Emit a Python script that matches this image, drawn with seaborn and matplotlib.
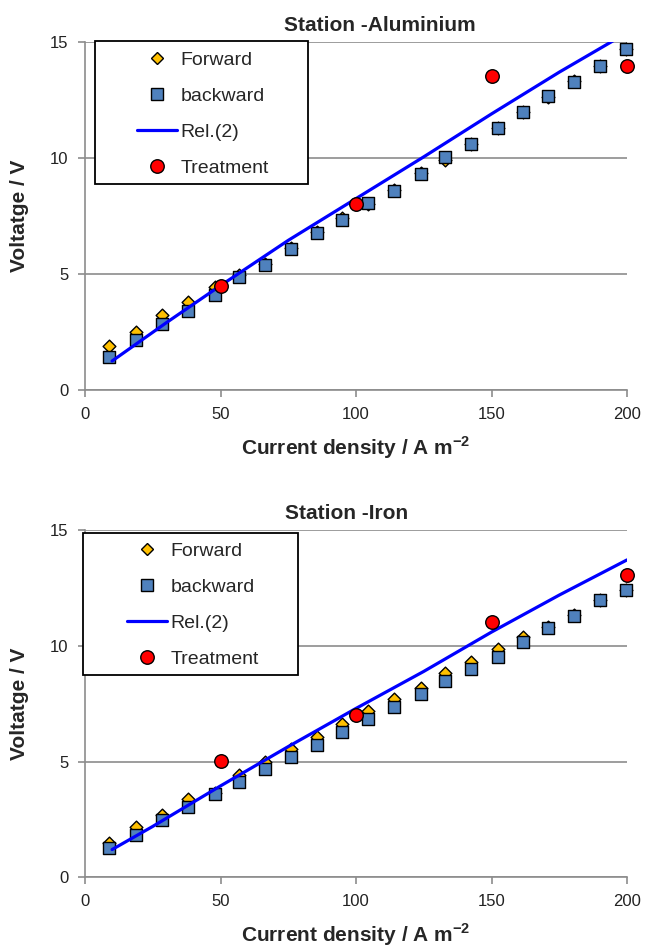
import numpy as np
import pandas as pd
import matplotlib
matplotlib.use("Agg")
import matplotlib.pyplot as plt
from matplotlib.lines import Line2D
from matplotlib.patches import Rectangle
import seaborn as sns

sns.set_style("white")
plt.rcParams['font.family'] = ['Liberation Sans', 'DejaVu Sans']
plt.rcParams['mathtext.fontset'] = 'custom'
plt.rcParams['mathtext.rm'] = 'Liberation Sans'
plt.rcParams['mathtext.bf'] = 'Liberation Sans:bold'

# ---------------- data ----------------
current = [9, 19, 28.5, 38, 48, 57, 66.5, 76, 85.5, 95, 104.5, 114, 124, 133,
           142.5, 152.5, 161.5, 171, 180.5, 190, 199.5]

al_forward = [1.91, 2.49, 3.24, 3.78, 4.46, 4.95, 5.45, 6.10, 6.80, 7.40, 8.00,
              8.60, 9.35, 9.90, 10.60, 11.30, 12.00, 12.65, 13.30, 13.95, 14.70]
al_backward = [1.44, 2.16, 2.86, 3.39, 4.11, 4.85, 5.39, 6.07, 6.75, 7.33, 8.05,
               8.59, 9.33, 10.04, 10.59, 11.29, 11.97, 12.66, 13.27, 13.95, 14.68]
al_rel_x = [10, 30, 50, 75, 100, 125, 150, 175, 200]
al_rel_y = [1.25, 2.9, 4.5, 6.45, 8.25, 10.05, 11.9, 13.7, 15.4]
al_treat_x = [50, 100, 150, 200]
al_treat_y = [4.49, 8.01, 13.52, 13.98]

fe_forward = [1.50, 2.16, 2.69, 3.37, 3.66, 4.41, 4.99, 5.56, 6.08, 6.61, 7.19,
              7.69, 8.17, 8.82, 9.32, 9.87, 10.40, 10.80, 11.33, 12.00, 12.43]
fe_backward = [1.25, 1.83, 2.48, 3.05, 3.59, 4.11, 4.68, 5.20, 5.72, 6.28, 6.84,
               7.36, 7.93, 8.47, 9.01, 9.54, 10.17, 10.76, 11.31, 11.99, 12.42]
fe_rel_x = [10, 25, 50, 75, 100, 125, 150, 175, 200]
fe_rel_y = [1.2, 2.2, 3.95, 5.65, 7.3, 8.9, 10.6, 12.2, 13.72]
fe_treat_x = [50, 100, 150, 200]
fe_treat_y = [5.03, 7.02, 11.05, 13.05]

titles = ["Station -Aluminium", "Station -Iron"]
legend_labels = ["Forward", "backward", "Rel.(2)", "Treatment"]
x_ticks = [0, 50, 100, 150, 200]
y_ticks = [0, 5, 10, 15]

# ---------------- styles ----------------
C_FWD = "#FFC000"
C_BWD = "#4F81BD"
C_LINE = "#0000FF"
C_TRT = "#FF0000"
GRID = "#8C8C8C"

W, H = 651, 949
fig = plt.figure(figsize=(W / 100, H / 100), dpi=100)

def fx(px):
    return px / W

def fy(py):
    return 1 - py / H

ax1 = fig.add_axes([fx(85), fy(390), 542 / W, 348 / H])
ax2 = fig.add_axes([fx(85), fy(877.3), 542 / W, 347 / H])

datasets = [
    (ax1, al_forward, al_backward, al_rel_x, al_rel_y, al_treat_x, al_treat_y),
    (ax2, fe_forward, fe_backward, fe_rel_x, fe_rel_y, fe_treat_x, fe_treat_y),
]

for i, (ax, fwd, bwd, rx, ry, tx, ty) in enumerate(datasets):
    df = pd.DataFrame({"x": current, "fwd": fwd, "bwd": bwd})
    sns.scatterplot(data=df, x="x", y="fwd", ax=ax, marker="D", s=42,
                    color=C_FWD, edgecolor="black", linewidth=1.0, zorder=3,
                    clip_on=False)
    sns.scatterplot(data=df, x="x", y="bwd", ax=ax, marker="s", s=80,
                    color=C_BWD, edgecolor="black", linewidth=1.0, zorder=4,
                    clip_on=False)
    sns.lineplot(x=rx, y=ry, ax=ax, color=C_LINE, linewidth=2.3, zorder=5,
                 sort=False, estimator=None)
    sns.scatterplot(x=tx, y=ty, ax=ax, marker="o", s=95, color=C_TRT,
                    edgecolor="black", linewidth=1.0, zorder=6, clip_on=False)

    ax.set_xlim(0, 200)
    ax.set_ylim(0, 15)
    ax.set_xticks(x_ticks)
    ax.set_yticks(y_ticks)
    ax.yaxis.grid(True, color=GRID, linewidth=1.2)
    ax.xaxis.grid(False)
    ax.set_axisbelow(True)
    for s in ["top", "right"]:
        ax.spines[s].set_visible(False)
    for s in ["left", "bottom"]:
        ax.spines[s].set_color(GRID)
        ax.spines[s].set_linewidth(1.2)
    ax.tick_params(axis="both", direction="out", length=5, width=1.2,
                   color=GRID, labelsize=12, labelcolor="#222222", pad=7,
                   bottom=True, left=True)
    ax.set_xlabel(r"Current density / A m$^{\mathbf{-2}}$", fontsize=15,
                  fontweight="bold", labelpad=9)
    ax.set_ylabel("Voltatge / V", fontsize=15, fontweight="bold")
    ax.yaxis.set_label_coords(-(85 - 29) / 542, 0.5)

    tx_pos = [(380 - 85) / 542, (346.5 - 85) / 542][i]
    ax.set_title(titles[i], fontsize=15, fontweight="bold", x=tx_pos, pad=8)

    if ax.get_legend() is not None:
        ax.get_legend().remove()

# ---------------- legends ----------------
handles = [
    Line2D([], [], linestyle="none", marker="D", markersize=6.5,
           markerfacecolor=C_FWD, markeredgecolor="black", markeredgewidth=1.0),
    Line2D([], [], linestyle="none", marker="s", markersize=8.9,
           markerfacecolor=C_BWD, markeredgecolor="black", markeredgewidth=1.0),
    Line2D([], [], color=C_LINE, linewidth=2.3),
    Line2D([], [], linestyle="none", marker="o", markersize=9.7,
           markerfacecolor=C_TRT, markeredgecolor="black", markeredgewidth=1.0),
]

leg_specs = [
    # (axes, handle start x, first row top y, box left, box top, box right, box bottom)
    (ax1, 137, 51, 95, 41, 308, 184),
    (ax2, 127, 542, 83, 533, 298, 675),
]
for ax, hx, hy, bl, bt, br, bb in leg_specs:
    frame = Rectangle((fx(bl), fy(bb)), (br - bl) / W, (bb - bt) / H,
                      transform=fig.transFigure, facecolor="white",
                      edgecolor="black", linewidth=1.3, zorder=9,
                      clip_on=False)
    ax.add_patch(frame)
    leg = ax.legend(handles=handles, labels=legend_labels, frameon=False,
                    loc="upper left", bbox_to_anchor=(fx(hx), fy(hy)),
                    bbox_transform=fig.transFigure, borderaxespad=0,
                    borderpad=0, fontsize=14, handlelength=2.05,
                    handletextpad=0.2, labelspacing=0.95)
    leg.set_zorder(10)

fig.savefig("out.png", dpi=100)
